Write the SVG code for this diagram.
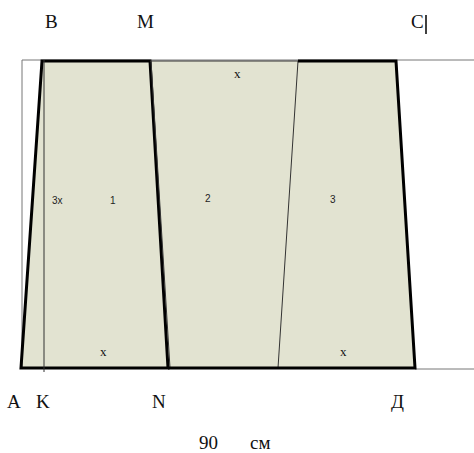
<svg xmlns="http://www.w3.org/2000/svg" width="474" height="453" viewBox="0 0 474 453">
<style>
.lbl{font-family:"Liberation Serif",serif;font-size:19px;fill:#111}
.sx{font-family:"Liberation Serif",serif;font-size:13px;fill:#111}
.num{font-family:"Liberation Sans",sans-serif;font-size:10px;fill:#222}
.thin{stroke:#777;stroke-width:1;fill:none}
.hair{stroke:#333;stroke-width:1;fill:none}
.thick{stroke:#000;stroke-width:3;fill:none;stroke-linejoin:miter}
</style>
<rect width="474" height="453" fill="#fff"/>
<g id="fabric">
<polygon points="42,61 396,61 415,368 21,368" fill="#e2e3d1"/>
<polyline class="thin" points="474,60 22,60 22,368"/>
<line class="thin" x1="415" y1="369" x2="474" y2="369"/>
</g>
<g id="panel1">
<polygon class="thick" points="42,61 150,61 168,368 21,368"/>
<line class="hair" x1="44" y1="60" x2="44" y2="372"/>
<text class="num" x="52" y="204">3x</text>
<text class="num" x="110" y="204">1</text>
<text class="sx" x="100" y="356">x</text>
</g>
<g id="panel2">
<line class="hair" x1="150" y1="61" x2="298" y2="61"/>
<line class="hair" x1="151" y1="61" x2="170" y2="368"/>
<line class="hair" x1="298" y1="61" x2="278" y2="368"/>
<line class="thick" x1="168" y1="368" x2="278" y2="368"/>
<text class="num" x="205" y="202">2</text>
<text class="sx" x="234" y="78">x</text>
</g>
<g id="panel3">
<polyline class="thick" points="298,61 396,61 415,368 278,368"/>
<text class="num" x="330" y="203">3</text>
<text class="sx" x="340" y="356">x</text>
</g>
<g id="labels">
<text class="lbl" x="45" y="28">B</text>
<text class="lbl" x="137" y="28">M</text>
<text class="lbl" x="411" y="28">C</text>
<line x1="426" y1="15" x2="426" y2="34" stroke="#000" stroke-width="1.5"/>
<text class="lbl" x="7" y="408">A</text>
<text class="lbl" x="36" y="408">K</text>
<text class="lbl" x="152" y="408">N</text>
<text class="lbl" x="391" y="408">Д</text>
<text class="lbl" x="199" y="449">90</text>
<text class="lbl" x="250" y="449">см</text>
</g>
</svg>
